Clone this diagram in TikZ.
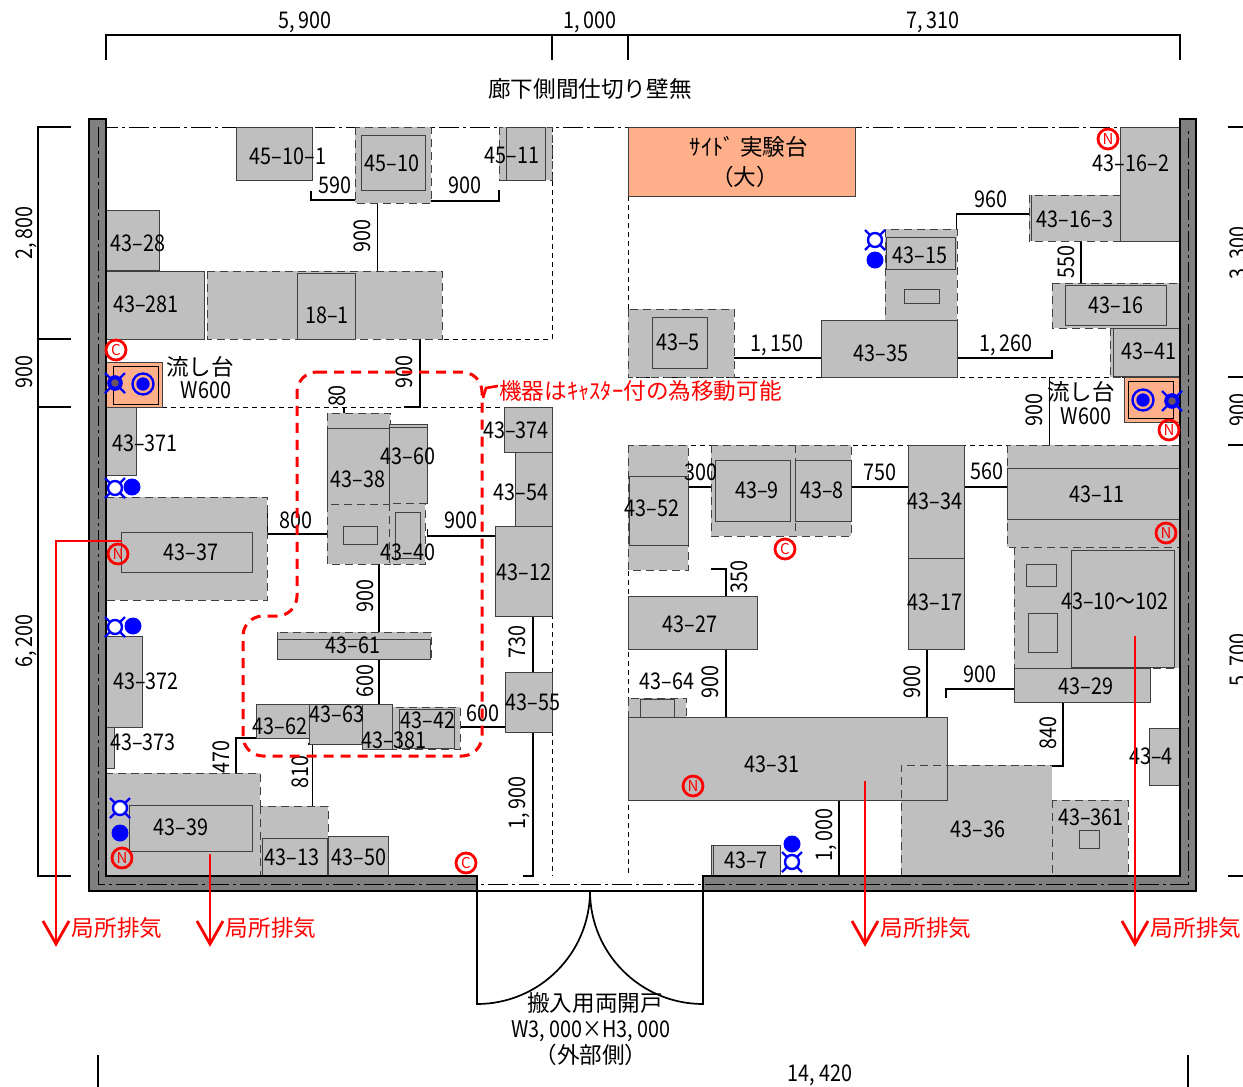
\documentclass[tikz,border=0pt]{standalone}
\usepackage{fontspec}
\newfontfamily\jpf{Noto Sans CJK JP}
\newfontfamily\numf[FakeStretch=0.86]{Noto Sans CJK JP}
\definecolor{eqgray}{HTML}{BFBFBF}
\definecolor{wallgray}{HTML}{808080}
\definecolor{sink}{HTML}{FFB08A}
\definecolor{edge}{HTML}{404040}
\definecolor{gascore}{HTML}{6A5560}
\newcounter{tcnt}
\newcommand{\eqs}[4]{\draw[eqsolid] (#1,#2) rectangle (#3,#4);}
\newcommand{\eqd}[4]{\draw[eqdash] (#1,#2) rectangle (#3,#4);}
\newcommand{\lab}[3]{\stepcounter{tcnt}\node[lbl] (t\arabic{tcnt}) at (#1,#2) {#3};}
\newcommand{\rlab}[3]{\stepcounter{tcnt}\node[lbl,rotate=90] (t\arabic{tcnt}) at (#1,#2) {#3};}
\newcommand{\jlab}[3]{\stepcounter{tcnt}\node[jlbl] (t\arabic{tcnt}) at (#1,#2) {#3};}
\newcommand{\mkC}[2]{\stepcounter{tcnt}\node[mark circ,fill=white] (t\arabic{tcnt}) at (#1,#2) {C};}
\newcommand{\mkN}[2]{\stepcounter{tcnt}\node[mark circ] (t\arabic{tcnt}) at (#1,#2) {N};}
\newcommand{\gasticks}[2]{\draw[blue,line width=2.4pt] (#1-5,#2-5)--(#1-10,#2-10) (#1+5,#2-5)--(#1+10,#2-10) (#1-5,#2+5)--(#1-10,#2+10) (#1+5,#2+5)--(#1+10,#2+10);}
\newcommand{\gasW}[2]{\draw[blue,line width=2.4pt,fill=white] (#1,#2) circle (7pt);\gasticks{#1}{#2}}
\newcommand{\gasK}[2]{\draw[blue,line width=4pt,fill=gascore] (#1,#2) circle (5.8pt);\gasticks{#1}{#2}}
\newcommand{\bdot}[2]{\fill[blue] (#1,#2) circle (8.5pt);}
\newcommand{\dring}[2]{\draw[blue,line width=2.4pt] (#1,#2) circle (10.5pt); \fill[blue] (#1,#2) circle (6.7pt);}
\newcommand{\redhead}[1]{\draw[exh] (#1-13,921)--(#1,944)--(#1+13,921);}
\tikzset{
  eqsolid/.style={fill=eqgray,draw=edge,line width=1pt},
  eqdash/.style={fill=eqgray,draw=edge,line width=1pt,dash pattern=on 8pt off 5pt},
  inbox/.style={draw=edge,line width=1pt},
  con/.style={draw=black,line width=1.1pt},
  zone/.style={draw=black,line width=0.8pt,dash pattern=on 5pt off 4pt},
  center line/.style={draw=black,line width=0.9pt,dash pattern=on 20pt off 4pt on 3pt off 4pt},
  lbl/.style={inner sep=0pt,text height=17pt,text depth=0pt,font=\numf\fontsize{23}{25}\selectfont,text=black},
  jlbl/.style={inner sep=0pt,font=\jpf\fontsize{22.6}{25}\selectfont,text=black},
  mark circ/.style={circle,draw=red,line width=2.8pt,minimum size=20pt,inner sep=0pt,text=red,font=\jpf\fontsize{15}{16}\selectfont},
  exh/.style={draw=red,line width=2.8pt},
  redtext/.style={inner sep=0pt,text=red,font=\jpf\fontsize{22.6}{25}\selectfont}
}
\begin{document}
\begin{tikzpicture}[x=1pt,y=-1pt]
\useasboundingbox (0,0) rectangle (1243,1087);
\fill[white] (0,0) rectangle (1243,1087);
% dimension lines
\draw[con] (106,60)--(106,35)--(1180,35)--(1180,60) (552,35)--(552,60) (628,35)--(628,60);
\draw[con] (71,127)--(38,127)--(38,876)--(71,876) (38,339)--(71,339) (38,407)--(71,407);
\draw[con] (1228,127)--(1243,127) (1228,377)--(1243,377) (1228,445)--(1243,445) (1228,876)--(1243,876);
\draw[con] (98,1055)--(98,1087) (1188,1055)--(1188,1087);
\lab{305}{20}{5, 900}\lab{590}{20}{1, 000}\lab{933}{20}{7, 310}
\rlab{24}{233}{2, 800}\rlab{24}{372}{900}\rlab{24}{641}{6, 200}
\rlab{1238}{253}{3, 300}\rlab{1238}{410}{900}\rlab{1238}{660}{5, 700}
\lab{820}{1073}{14, 420}
\jlab{590}{89}{廊下側間仕切り壁無}
% room zones
\draw[zone] (552,127)--(552,339)--(442,339);
\draw[zone] (162,407)--(504,407);
\draw[zone] (552,407)--(552,876);
\draw[zone] (628,196)--(628,377)--(1125,377);
\draw[zone] (628,445)--(1007,445);
\draw[zone] (628,445)--(628,876);
\draw[center line] (98,127)--(1180,127);
% connectors
\draw[con] (311,191)--(311,200)--(355,200);
\draw[con] (431,201)--(499,201)--(499,190);
\draw[con] (377.5,203)--(377.5,271);
\draw[con] (420,339)--(420,407)--(404,407);
\draw[con] (344,407)--(344,413) ;
\draw[con] (267,512)--(267,534)--(327,534);
\draw[con] (427.5,529)--(427.5,536)--(496,536);
\draw[con] (379,564)--(379,632) (379,659)--(379,704);
\draw[con] (460,727)--(505,727);
\draw[con] (533,616)--(533,672) (533,732)--(533,876)--(523,876);
\draw[con] (256,738)--(236,738)--(236,774)--(248,774);
\draw[con] (308,744)--(312.5,744)--(312.5,806);
\draw[con] (956.5,229)--(956.5,214)--(1029,214);
\draw[con] (1081,241)--(1081,283);
\draw[con] (734,358)--(821,358);
\draw[con] (957,358)--(1052,358)--(1052,350);
\draw[con] (1049.5,377)--(1049.5,445);
\draw[con] (688,487)--(711,487) (851,487)--(908,487) (964,487)--(1007,487);
\draw[con] (711,569)--(726,569)--(726,596) (726,649)--(726,717) (927,649)--(927,717);
\draw[con] (946,698)--(946,689)--(1014,689);
\draw[con] (1063,702)--(1063,766)--(1052,766);
\draw[con] (839,800)--(839,876);
% equipment left
\eqs{236}{127}{312}{180}
\eqd{355}{127}{431}{203}
\draw[inbox] (361,135) rectangle (425,190);
\eqd{499}{127}{552}{180}
\draw[inbox] (506,127) rectangle (545,180);
\eqs{106}{210}{159}{270}
\eqs{106}{271}{204}{339}
\eqd{207}{271}{442}{339}
\draw[inbox] (297,273) rectangle (355,339);
\draw[draw=edge,fill=sink,line width=1pt] (106,362) rectangle (162,407);
\draw[draw=black,line width=1pt] (113,366) rectangle (158,404);
\eqs{106}{407}{136}{475}
\eqd{106}{497}{267}{600}
\draw[inbox] (121,532) rectangle (252,572);
\eqd{327}{413}{390}{428}
\eqs{327}{428}{390}{504}
\eqs{389}{424}{427}{503}
\draw[inbox] (389,427)--(427,427);
\eqd{327}{504}{390}{564}
\draw[inbox] (343,526) rectangle (377,544);
\eqd{389}{503}{425}{564}
\draw[inbox] (395,512) rectangle (420,558);
\eqs{504}{407}{552}{452}
\eqs{515}{452}{552}{526}
\eqs{495}{526}{552}{616}
\eqs{505}{672}{552}{732}
\eqd{277}{632}{431}{659}
\draw[inbox] (277,639) rectangle (430,659);
\eqs{256}{704}{309}{738}
\eqd{392}{707}{460}{749}
\draw[inbox] (399,709) rectangle (454,748);
\eqs{362}{704}{392}{749}
\eqs{309}{704}{362}{744}
\eqs{106}{636}{142}{727}
\eqs{106}{727}{114}{768}
\eqd{106}{773}{260}{876}
\draw[inbox] (129,805) rectangle (252,851);
\eqd{260}{806}{328}{876}
\draw[inbox] (262,838) rectangle (327,876);
\eqs{328}{836}{388}{876}
% equipment right
\draw[fill=sink,draw=edge,line width=1pt] (628,127) rectangle (855,196);
\eqs{1120}{127}{1179}{241}
\eqd{1029}{195}{1120}{241}
\draw[inbox] (1031,195)--(1031,241);
\eqd{885}{229}{957}{320}
\draw[inbox] (886,237) rectangle (955,269);
\draw[inbox] (904,289) rectangle (939,303);
\eqd{1052}{283}{1180}{328}
\draw[inbox] (1065,285) rectangle (1166,325);
\eqd{1110}{328}{1180}{377}
\draw[inbox] (1113,328) rectangle (1180,376);
\eqd{628}{309}{734}{377}
\draw[inbox] (652,317) rectangle (707,368);
\eqs{821}{320}{957}{377}
\draw[draw=edge,fill=sink,line width=1pt] (1124,377) rectangle (1180,422);
\draw[draw=black,line width=1pt] (1128,381) rectangle (1173,418);
\eqd{628}{445}{688}{570}
\draw[inbox] (629,476) rectangle (688,545);
\eqd{711}{445}{851}{536}
\draw[eqdash,fill=none] (795,445)--(795,536);
\draw[inbox] (715,460) rectangle (790,521);
\draw[inbox] (795,460) rectangle (851,521);
\eqs{908}{445}{964}{558}
\eqs{908}{558}{964}{649}
\eqd{1007}{445}{1180}{547}
\draw[inbox] (1007,468) rectangle (1180,519);
\eqd{1014}{547}{1180}{668}
\draw[inbox] (1071,550) rectangle (1174,667);
\draw[inbox] (1026,564) rectangle (1056,586);
\draw[inbox] (1028,613) rectangle (1057,652);
\eqs{1014}{668}{1150}{702}
\eqs{628}{596}{757}{649}
\eqd{628}{698}{686}{717}
\draw[inbox] (640,699) rectangle (674,717);
\fill[eqgray] (901,765) rectangle (1052,876);
\eqs{628}{717}{947}{800}
\draw[eqdash,fill=none] (901,876)--(901,765)--(1052,765);
\eqd{1052}{800}{1128}{876}
\draw[inbox] (1079,830) rectangle (1099,848);
\eqs{1149}{728}{1180}{785}
\eqs{711}{845}{780}{876}
\draw[inbox] (713,845)--(713,876);
% walls
\draw[fill=wallgray,draw=black,line width=1.8pt] (89,119)--(89,891)--(477,891)--(477,876)--(106,876)--(106,119)--cycle;
\draw[fill=wallgray,draw=black,line width=1.8pt] (1196,119)--(1196,891)--(703,891)--(703,876)--(1180,876)--(1180,119)--cycle;
\draw[center line] (98,127)--(98,884)--(1188,884)--(1188,127);
\draw[draw=black,line width=1.8pt] (477,891)--(703,891);
% door
\draw[draw=black,line width=1.7pt] (477,891)--(477,1004) arc[start angle=270,end angle=360,radius=113pt];
\draw[draw=black,line width=1.7pt] (703,891)--(703,1004) arc[start angle=270,end angle=180,radius=113pt];
\jlab{595}{1003}{搬入用両開戸}
\lab{591}{1029}{W3, 000×H3, 000}
\jlab{591}{1055}{（外部側）}
% connector labels
\lab{335}{185}{590}\lab{465}{185}{900}\rlab{362}{236}{900}\rlab{404}{372}{900}\rlab{337}{396}{80}
\lab{296}{520}{800}\lab{461}{520}{900}\rlab{365}{596}{900}\rlab{365}{681}{600}\lab{483}{713}{600}
\rlab{517}{642}{730}\rlab{517}{803}{1, 900}\rlab{221}{757}{470}\rlab{300}{772}{810}
\lab{991}{199}{960}\rlab{1066}{262}{550}\lab{777}{343}{1, 150}\lab{1006}{343}{1, 260}\rlab{1034}{410}{900}
\lab{701}{472}{300}\lab{880}{472}{750}\lab{987}{471}{560}\rlab{739}{577}{350}\rlab{710}{682}{900}
\rlab{912}{682}{900}\lab{980}{674}{900}\rlab{1048}{733}{840}\rlab{824}{835}{1, 000}
% equipment labels
\lab{288}{156}{45–10–1}\lab{392}{163}{45–10}\lab{512}{155}{45–11}\lab{138}{243}{43–28}\lab{146}{304}{43–281}
\lab{327}{315}{18–1}\lab{145}{443}{43–371}\lab{191}{552}{43–37}\lab{358}{479}{43–38}\lab{408}{456}{43–60}
\lab{516}{430}{43–374}\lab{521}{492}{43–54}\lab{524}{572}{43–12}\lab{408}{552}{43–40}\lab{353}{645}{43–61}
\lab{533}{702}{43–55}\lab{280}{726}{43–62}\lab{337}{714}{43–63}\lab{428}{720}{43–42}\lab{394}{740}{43–381}
\lab{146}{681}{43–372}\lab{143}{742}{43–373}\lab{181}{827}{43–39}\lab{292}{857}{43–13}\lab{359}{857}{43–50}
\lab{1131}{163}{43–16–2}\lab{1075}{219}{43–16–3}\lab{920}{255}{43–15}\lab{1116}{305}{43–16}\lab{1149}{351}{43–41}
\lab{678}{342}{43–5}\lab{881}{353}{43–35}\lab{652}{508}{43–52}\lab{757}{490}{43–9}\lab{822}{490}{43–8}
\lab{935}{501}{43–34}\lab{1097}{494}{43–11}\lab{935}{602}{43–17}\lab{1115}{601}{43–10～102}\lab{1086}{686}{43–29}
\lab{690}{624}{43–27}\lab{667}{681}{43–64}\lab{772}{764}{43–31}\lab{978}{829}{43–36}\lab{1091}{817}{43–361}
\lab{1151}{756}{43–4}\lab{746}{860}{43–7}
\jlab{200}{367}{流し台}\lab{206}{390}{W600}
\jlab{1081}{392}{流し台}\lab{1086}{416}{W600}
\jlab{749}{147}{ｻｲﾄﾞ 実験台}\jlab{745}{177}{（大）}
% red region
\draw[red,line width=3pt,dash pattern=on 10pt off 7pt,rounded corners=20pt] (297,372)--(482,372)--(482,756)--(243,756)--(243,616)--(297,616)--cycle;
\draw[red,line width=2.6pt] (498,386)--(486,388)--(483,398);
\stepcounter{tcnt}\node[redtext,anchor=west] (t\arabic{tcnt}) at (499,391) {機器はｷｬｽﾀｰ付の為移動可能};
% exhaust
\draw[exh] (122,541)--(56,541)--(56,944);\redhead{56}
\draw[exh] (210,854)--(210,944);\redhead{210}
\draw[exh] (865,781)--(865,944);\redhead{865}
\draw[exh] (1135,636)--(1135,944);\redhead{1135}
\stepcounter{tcnt}\node[redtext] (t\arabic{tcnt}) at (117,928) {局所排気};
\stepcounter{tcnt}\node[redtext] (t\arabic{tcnt}) at (271,928) {局所排気};
\stepcounter{tcnt}\node[redtext] (t\arabic{tcnt}) at (926,928) {局所排気};
\stepcounter{tcnt}\node[redtext] (t\arabic{tcnt}) at (1196,928) {局所排気};
% marks
\mkC{116}{350}\mkC{466}{863}\mkC{785}{549}
\mkN{118}{554}\mkN{122}{858}\mkN{1108}{139}\mkN{1169}{430}\mkN{1166}{533}\mkN{693}{786}
% gas and water
\gasK{115}{383}\dring{143}{384}
\gasW{115}{488}\bdot{132}{487}
\gasW{115}{627}\bdot{133}{626}
\gasW{120}{808}\bdot{120}{833}
\gasW{875}{240}\bdot{875}{260}
\gasW{792}{862}\bdot{792}{844}
\gasK{1172}{401}\dring{1143}{400}
\end{tikzpicture}
\end{document}
